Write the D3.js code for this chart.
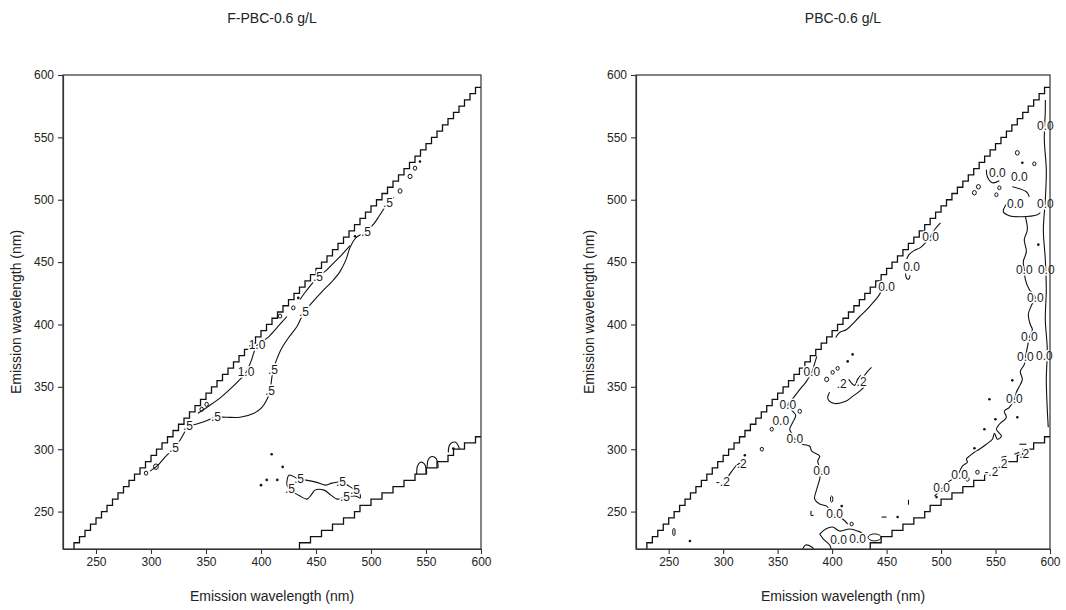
<!DOCTYPE html>
<html>
<head>
<meta charset="utf-8">
<script src="https://cdn.jsdelivr.net/npm/d3@7"></script>
<style>
  body { margin: 0; background: #fff; }
  svg { display: block; }
  text { font-family: "Liberation Sans", Arial, sans-serif; }
</style>
</head>
<body>
<svg id="chart" width="1066" height="610"></svg>
<script>
// ---- axes -------------------------------------------------------------
const axisDomain = [220, 600];
const tickValues = [250, 300, 350, 400, 450, 500, 550, 600];
const panelTitles = ["F-PBC-0.6 g/L", "PBC-0.6 g/L"];
const axisTitle = "Emission wavelength (nm)";

// ---- scatter masks (scan grid, nm) -----------------------------------
const rayleighMask = [[230, 220], [600, 590]];   // first-order band, 5 nm steps
const scanStep = 5;
const secondOrderRiseEx = [435, 445, 455, 465, 475, 485, 490, 500, 510, 520, 530, 540, 550, 560, 570, 575, 585, 595];
const secondOrderRiseEm = [225, 230, 235, 240, 245, 250, 255, 260, 265, 270, 275, 280, 285, 290, 295, 300, 305, 310];

// ---- F-PBC contour lines [x, y] ---------------------------------------
const fpbcHalfOuter = [[299.1,282.4],[306.4,287.2],[312.7,293.6],[320.9,300.8],[326.4,307.2],[330,312.8],[333.6,318.4],
  [340.9,320],[349.1,322.4],[359.1,325.6],[368.2,325.6],[380.9,325.6],[393.6,328.8],[400.9,333.6],[405.5,340],
  [408.2,346.4],[409.5,355],[410.9,363.2],[413.6,370.4],[418.2,380],[424.5,388.8],[432.7,398.4],[439.1,409.6],
  [446.4,417.6],[455.5,426.4],[464.5,434.4],[471.8,442.4],[477.3,452],[480.9,461.6],[486.4,469.6],[495.5,474.4],
  [502.7,480.8],[508.2,488],[515.5,497.6],[521,502]];
const fpbcHalfInner = [[435.5,420],[440,425.6],[446.4,432.8],[451.8,438.4],[459.1,443.2],[466.4,449.6],[473.6,456],[480.9,463.2]];
const fpbcOne = [[342.7,328.8],[353.6,335.2],[364.5,342.4],[375.5,351.2],[380.9,356],[386.4,361.6],[390.9,370.4],
  [396.4,383.2],[406.4,389.6],[415.5,398.4],[423.6,406.4]];
const fpbcLowBlob = [[423.6,274.4],[425.5,279.2],[434.5,276],[440.9,275.2],[450,273.6],[459.1,271.2],[464.5,272.8],
  [472.7,273.6],[480,270.4],[485.5,267.2],[490,264],[490,260.8],[486.4,262.4],[476.4,261.6],[469.1,260],[463.6,263.2],
  [457.3,267.2],[449.1,267.2],[445.5,263.2],[441.8,260],[435.5,262.4],[430.9,264.8],[426.4,268],[423.6,271.2],[423.6,274.4]];
const fpbcStepLoopA = [[541.5,280],[542.3,286.5],[545,289.6],[548.3,288.5],[550.3,284.5],[550.6,280]];
const fpbcStepLoopB = [[551,285],[552,291.5],[554.5,294],[558,293.5],[560.5,290],[561,285]];
const fpbcStepLoopC = [[570.3,297.4],[570.8,302],[573,305],[577,305.5],[579.5,302.5],[580.3,300]];
const fpbcPockets = [[295.5,280.8,1.6],[304.5,286,2.2],[346.1,332,1.6],[350.6,336,1.6],[417.3,406.7,1.6],
  [429.4,413.3,1.6],[526.4,507,1.8],[535.5,518.7,1.8],[540,525.3,1.6]];
const fpbcDots = [[433.9,421.3],[485.5,470.7],[544.5,530.7],[574.8,300.6],[409.7,296],[419.7,285.8],
  [405.2,275.4],[414.8,275.4],[400,271.2]];
const fpbcLabels = [[".5",320.9,300.8],[".5",333.6,318.4],[".5",359.1,325.6],[".5",408.2,346.4],[".5",410.9,363.2],
  [".5",439.1,409.6],[".5",451.8,438.4],[".5",495.5,474.4],[".5",515.5,497.6],["1.0",386.4,361.6],["1.0",396.4,383.2],
  [".5",434.5,276],[".5",472.7,273.6],[".5",485.5,267.2],[".5",476.4,261.6],[".5",426.4,268]];

// ---- PBC contour lines [x, y] -----------------------------------------
const pbcEdge = [[595.7,580],[595.7,572],[594.8,548],[596.6,524],[595.7,500],[593.9,476],[595.7,452],[596.6,428],
  [595.7,404],[597.5,380],[596.6,356],[597.5,332],[598.4,317.6]];
const pbcWiggle = [[577.4,486.4],[579.2,476],[576.4,468],[578.3,458.4],[575.5,450.4],[576.4,444],[577.4,436],[581,428],
  [586.5,421.6],[582.9,415.2],[580.1,408],[581.9,400],[583.8,396],[581,389.6],[579.2,381.6],[577.4,373.6],[576.4,368],
  [572.8,362.4],[574.6,356],[571.9,350.4],[569.1,345.6],[567.3,340],[562.7,333.6],[558.1,330.4],[559.9,325.6],
  [553.5,320],[550.8,316],[555.4,310.4],[551.7,308],[549,312.8],[547.1,308],[541.6,304],[535.2,300],[530.6,297.6],
  [526,294.4],[523.3,292],[524.2,289.6],[519.6,286.4],[514.1,277.6],[507.7,274.4],[503.1,270.4],[498.6,266.4],[494,262.4]];
const pbcUpperBlob = [[564.5,500],[559,495.2],[557.2,490.4],[562.7,487.2],[573.7,486.4],[588.4,488],[591.1,489.6]];
const pbcUpperArc = [[565.4,510.4],[578.3,506.4],[581,502.4]];
const pbcTopHook = [[541.6,524],[542.5,518.4],[547.1,513.6],[553.5,515.2]];
const pbcDiagA = [[499.5,481.5],[494.5,476.5],[490.3,470.4],[486.7,466.6],[481,461.6],[475.2,459.2],[470.6,456],[468.5,452.5]];
const pbcDiagHook = [[467.4,440.8],[468.3,437],[470.5,436.5],[471.5,439.5]];
const pbcDiagB = [[446,434],[444.5,425.6],[434.4,414.4],[425.3,406.4],[413.3,396],[406.9,393.6],[403.3,389.6]];
const pbcLong = [[385.9,374.4],[384,368.8],[381.3,361.6],[375.8,353.6],[371.2,348.8],[364.8,341.6],[359.3,335.2],
  [363.9,330.4],[366.6,327.2],[363.9,321.6],[361.1,316],[363.9,311.2],[365.7,308],[373,304],[379.4,302.4],[381.3,298.4],
  [388.6,294.4],[386.8,290.4],[389.5,282.4],[388.6,276],[385.9,268],[384,260],[388.6,256],[395,254.4],[400.5,248],
  [409.7,244],[414.3,240]];
const pbcBaseBlob = [[388.6,232],[394.1,236],[400.5,237.6],[406.9,234.4],[416.1,236],[423.4,234.4],[428.9,232],[430.7,228]];
const pbcBaseStem = [[388.6,232],[392,228],[397.8,223.2],[399,220]];
const pbcBaseArc = [[373,220],[375.8,223.2],[381.3,221.6],[383.1,220]];
const pbcNegBlob = [[397.8,345.6],[396,340.8],[401.4,336.8],[412.4,338.4],[418.8,342.4],[426.2,347.2],[430.7,352],
  [428.9,357.6],[432.6,362.4],[436.2,365.6]];
const pbcNegArc = [[415.2,356],[420.7,351.2],[423.4,356],[426.2,359.2]];
const pbcNegLeft = [[304.3,277.6],[308,282.4],[311.6,286.4],[316.2,289.6]];
const pbcNegRight1 = [[555.4,293.6],[560,294.4]];
const pbcNegRight2 = [[567.3,296],[571.9,297.6]];
const pbcNegRight3 = [[571.9,304],[578.3,304]];
const pbcTicks = [[[380.8,250.5],[380.8,247],[383,247]], [[445.4,245.6],[450,245.6]], [[470.1,255.5],[470.1,259.5]]];
const pbcPockets = [[570,537.6,1.8],[585.6,528.8,1.5],[534.3,510.4,1.8],[530.6,505.6,1.8],[553.5,509.6,1.5],
  [550.8,504,1.5],[395,356,1.8],[400.5,361.6,1.5],[405.1,364.8,1.5],[335.5,300,1.5],[344.6,316,1.5],[370.3,330.4,1.6],
  [417.9,240,1.5],[533.4,281.6,1.6],[524.2,276,1.6]];
const pbcOvals = [[254.8,233.6,1.1,3],[399.6,260,1.1,2.5],[439,229.3,6,2.8]];
const pbcDots = [[574.6,529.6],[589.3,464],[565.4,355.2],[544.4,340],[570,325.6],[549.9,324],[539.8,316],[530.6,300.8],
  [495.8,261.6],[460.1,245.6],[414.3,370.4],[418.8,376],[319.9,295.2],[269.5,226.4],[408.8,254.4]];
const pbcLabels = [["0.0",595.7,559.2],["0.0",551.7,521.6],["0.0",571.9,518.4],["0.0",568.2,496.8],["0.0",595.7,496.8],
  ["0.0",490.3,470.4],["0.0",472.9,446.4],["0.0",450,430.4],["0.0",576.4,444],["0.0",596.6,444],["0.0",586.5,421.6],
  ["0.0",581,389.6],["0.0",577.4,373.6],["0.0",594.8,374.4],["0.0",567.3,340],["0.0",381.3,361.6],[".2",408.8,352],
  [".2",427.1,353.6],["0.0",359.3,335.2],["0.0",352.9,322.4],["0.0",365.7,308],["0.0",390.4,282.4],["0.0",402.3,248],
  ["0.0",406,227.2],["0.0",423.4,228],[".2",317.1,288],["-.2",299.7,273.6],["-.2",546.2,281.6],[".2",556.3,288],
  [".2",576.4,296],["0.0",517,279],["0.0",500.5,268.8]];

// ---- layout ------------------------------------------------------------
const panels = [
  { title: panelTitles[0], left: 63, right: 481, titleX: 272, yTitleX: 16,
    lines: [fpbcHalfOuter, fpbcHalfInner, fpbcOne, fpbcLowBlob, fpbcStepLoopA, fpbcStepLoopB, fpbcStepLoopC],
    pockets: fpbcPockets, ovals: [], dots: fpbcDots, labels: fpbcLabels },
  { title: panelTitles[1], left: 636, right: 1050, titleX: 843, yTitleX: 589,
    lines: [pbcEdge, pbcWiggle, pbcUpperBlob, pbcUpperArc, pbcTopHook, pbcDiagA, pbcDiagHook, pbcDiagB, pbcLong,
            pbcBaseBlob, pbcBaseStem, pbcBaseArc, pbcNegBlob, pbcNegArc, pbcNegLeft,
            pbcNegRight1, pbcNegRight2, pbcNegRight3, ...pbcTicks],
    pockets: pbcPockets, ovals: pbcOvals, dots: pbcDots, labels: pbcLabels }
];
const plotTop = 75, plotBottom = 549;

const svg = d3.select("#chart");

function firstOrderStair([[ex0, em0], [ex1]], step) {
  const pts = [[ex0, em0]];
  let ex = ex0, em = em0;
  while (ex < ex1) { em += step; pts.push([ex, em]); ex += step; pts.push([ex, em]); }
  return pts;
}
function secondOrderStair(riseEx, riseEm, floor, edge) {
  const pts = [[riseEx[0], floor]];
  riseEx.forEach((ex, i) => {
    pts.push([ex, riseEm[i]]);
    pts.push([i + 1 < riseEx.length ? riseEx[i + 1] : edge, riseEm[i]]);
  });
  return pts;
}

panels.forEach((p, idx) => {
  const x = d3.scaleLinear().domain(axisDomain).range([p.left, p.right]);
  const y = d3.scaleLinear().domain(axisDomain).range([plotBottom, plotTop]);
  const g = svg.append("g");
  const clipId = "plot-clip-" + idx;
  g.append("clipPath").attr("id", clipId).append("rect")
    .attr("x", p.left).attr("y", plotTop).attr("width", p.right - p.left).attr("height", plotBottom - plotTop);

  const plot = g.append("g").attr("clip-path", `url(#${clipId})`);
  const line = d3.line().x(d => x(d[0])).y(d => y(d[1]));
  const smooth = d3.line().x(d => x(d[0])).y(d => y(d[1])).curve(d3.curveCatmullRom.alpha(0.5));

  // scatter mask staircases
  const stairs = [firstOrderStair(rayleighMask, scanStep),
                  secondOrderStair(secondOrderRiseEx, secondOrderRiseEm, axisDomain[0], axisDomain[1])];
  plot.selectAll("path.stair").data(stairs).join("path")
    .attr("class", "stair").attr("d", line)
    .attr("fill", "none").attr("stroke", "#111").attr("stroke-width", 1.3);

  // contour lines
  plot.selectAll("path.contour").data(p.lines).join("path")
    .attr("class", "contour").attr("d", smooth)
    .attr("fill", "none").attr("stroke", "#111").attr("stroke-width", 1.1).attr("stroke-linejoin", "round");

  // small closed contours
  plot.selectAll("ellipse.pocket").data(p.pockets).join("ellipse")
    .attr("class", "pocket")
    .attr("cx", d => x(d[0])).attr("cy", d => y(d[1]))
    .attr("rx", d => x(d[0] + d[2]) - x(d[0])).attr("ry", d => y(d[1]) - y(d[1] + d[2]))
    .attr("fill", "none").attr("stroke", "#111").attr("stroke-width", 1);
  plot.selectAll("ellipse.oval").data(p.ovals).join("ellipse")
    .attr("class", "oval")
    .attr("cx", d => x(d[0])).attr("cy", d => y(d[1]))
    .attr("rx", d => x(d[0] + d[2]) - x(d[0])).attr("ry", d => y(d[1]) - y(d[1] + d[3]))
    .attr("fill", "none").attr("stroke", "#111").attr("stroke-width", 1);
  plot.selectAll("circle.dot").data(p.dots).join("circle")
    .attr("class", "dot").attr("cx", d => x(d[0])).attr("cy", d => y(d[1])).attr("r", 1.3)
    .attr("fill", "#111");

  // contour level labels break the line beneath them
  g.selectAll("text.level").data(p.labels).join("text")
    .attr("class", "level")
    .attr("x", d => x(d[1])).attr("y", d => y(d[2]))
    .attr("text-anchor", "middle").attr("dominant-baseline", "central")
    .attr("font-size", 12).attr("fill", "#1a1a1a")
    .attr("stroke", "#fff").attr("stroke-width", 3).attr("paint-order", "stroke")
    .text(d => d[0]);

  // frame
  g.append("rect")
    .attr("x", p.left).attr("y", plotTop).attr("width", p.right - p.left).attr("height", plotBottom - plotTop)
    .attr("fill", "none").attr("stroke", "#333").attr("stroke-width", 1.2);

  const xAxis = g.append("g").attr("transform", `translate(0,${plotBottom})`)
    .call(d3.axisBottom(x).tickValues(tickValues).tickSize(5).tickSizeOuter(0).tickPadding(3).tickFormat(d3.format("d")));
  const yAxis = g.append("g").attr("transform", `translate(${p.left},0)`)
    .call(d3.axisLeft(y).tickValues(tickValues).tickSize(5).tickSizeOuter(0).tickPadding(4).tickFormat(d3.format("d")));
  [xAxis, yAxis].forEach(a => {
    a.select(".domain").attr("stroke", "#333").attr("stroke-width", 1.2);
    a.selectAll(".tick line").attr("stroke", "#333").attr("stroke-width", 1.1);
    a.selectAll(".tick text").attr("font-size", 12).attr("fill", "#222")
      .attr("font-family", '"Liberation Sans", Arial, sans-serif');
  });

  g.append("text").attr("x", p.titleX).attr("y", 18)
    .attr("text-anchor", "middle").attr("dominant-baseline", "central")
    .attr("font-size", 14).attr("fill", "#222").text(p.title);
  g.append("text").attr("x", (p.left + p.right) / 2).attr("y", 596)
    .attr("text-anchor", "middle").attr("dominant-baseline", "central")
    .attr("font-size", 14).attr("fill", "#222").text(axisTitle);
  g.append("text").attr("transform", `translate(${p.yTitleX},${(plotTop + plotBottom) / 2}) rotate(-90)`)
    .attr("text-anchor", "middle").attr("dominant-baseline", "central")
    .attr("font-size", 14).attr("fill", "#222").text(axisTitle);
});
</script>
</body>
</html>
